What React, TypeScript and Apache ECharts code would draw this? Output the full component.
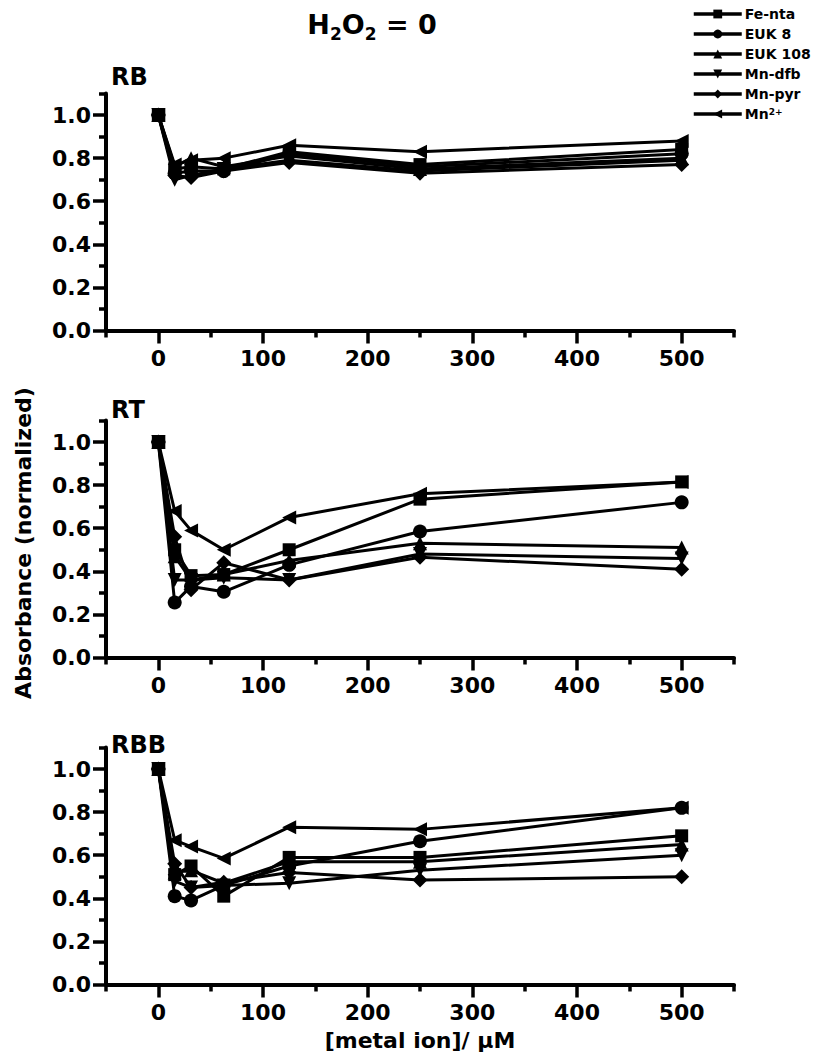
import React, { useEffect, useRef } from 'react';
import * as echarts from 'echarts';

// concentrations (µM)
const xValues = [0, 15.625, 31.25, 62.5, 125, 250, 500];
const seriesNames = ['Fe-nta', 'EUK 8', 'EUK 108', 'Mn-dfb', 'Mn-pyr', 'Mn2+'];
const panelLabels = ['RB', 'RT', 'RBB'];

// RB panel
const rbFeNta = [1, 0.75, 0.76, 0.75, 0.83, 0.77, 0.84];
const rbEuk8 = [1, 0.73, 0.74, 0.74, 0.82, 0.76, 0.82];
const rbEuk108 = [1, 0.76, 0.8, 0.76, 0.81, 0.75, 0.8];
const rbMnDfb = [1, 0.7, 0.72, 0.75, 0.79, 0.74, 0.79];
const rbMnPyr = [1, 0.72, 0.71, 0.74, 0.78, 0.73, 0.77];
const rbMn2 = [1, 0.77, 0.79, 0.8, 0.86, 0.83, 0.88];

// RT panel
const rtFeNta = [1, 0.5, 0.38, 0.385, 0.5, 0.735, 0.815];
const rtEuk8 = [1, 0.255, 0.33, 0.305, 0.43, 0.585, 0.72];
const rtEuk108 = [1, 0.47, 0.36, 0.385, 0.45, 0.53, 0.51];
const rtMnDfb = [1, 0.36, 0.36, 0.37, 0.36, 0.48, 0.46];
const rtMnPyr = [1, 0.56, 0.315, 0.44, 0.36, 0.465, 0.41];
const rtMn2 = [1, 0.68, 0.59, 0.5, 0.65, 0.76, 0.815];

// RBB panel
const rbbFeNta = [1, 0.51, 0.55, 0.41, 0.59, 0.59, 0.69];
const rbbEuk8 = [1, 0.41, 0.39, 0.46, 0.55, 0.665, 0.82];
const rbbEuk108 = [1, 0.52, 0.53, 0.47, 0.57, 0.57, 0.65];
const rbbMnDfb = [1, 0.48, 0.45, 0.46, 0.47, 0.53, 0.6];
const rbbMnPyr = [1, 0.56, 0.45, 0.475, 0.52, 0.485, 0.5];
const rbbMn2 = [1, 0.67, 0.64, 0.585, 0.73, 0.72, 0.82];

const panelData = [
  [rbFeNta, rbEuk8, rbEuk108, rbMnDfb, rbMnPyr, rbMn2],
  [rtFeNta, rtEuk8, rtEuk108, rtMnDfb, rtMnPyr, rtMn2],
  [rbbFeNta, rbbEuk8, rbbEuk108, rbbMnDfb, rbbMnPyr, rbbMn2],
];

const xTickValues = [0, 100, 200, 300, 400, 500];
const xMinorTickValues = [-50, 50, 150, 250, 350, 450, 550];
const yTickValues = [0, 0.2, 0.4, 0.6, 0.8, 1.0];
const yMinorTickValues = [0.1, 0.3, 0.5, 0.7, 0.9, 1.1];

const symbols = ['rect', 'circle', 'triangle', 'triangle', 'diamond', 'triangle'];
const symbolRotates = [0, 0, 0, 180, 0, 90];
const symbolSizes = [13, 14, 14, 14, 15, 14];

const FONT = 'DejaVu Sans';
const gridTops = [93.5, 420.5, 747.5];
const gridHeight = 237;
const panelLabelTops = [65, 398, 733];

export default function App() {
  const ref = useRef<HTMLDivElement>(null);

  useEffect(() => {
    if (!ref.current) return;
    const chart = echarts.init(ref.current, undefined, { renderer: 'svg' });

    const grids: any[] = [];
    const xAxes: any[] = [];
    const yAxes: any[] = [];
    const series: any[] = [];

    gridTops.forEach((top, i) => {
      grids.push({ left: 106, width: 628, top, height: gridHeight, containLabel: false });
      xAxes.push({
        gridIndex: i,
        type: 'value',
        min: -50,
        max: 550,
        position: 'bottom',
        axisLine: { show: true, onZero: false, lineStyle: { color: '#000', width: 4 } },
        axisTick: { show: true, customValues: xTickValues, length: 13, lineStyle: { color: '#000', width: 3.5 } },
        axisLabel: {
          customValues: xTickValues,
          fontFamily: FONT,
          fontWeight: 'bold',
          fontSize: 22,
          color: '#000',
          margin: 17,
        },
        splitLine: { show: false },
      });
      xAxes.push({
        gridIndex: i,
        type: 'value',
        min: -50,
        max: 550,
        position: 'bottom',
        axisLine: { show: false, onZero: false },
        axisTick: { show: true, customValues: xMinorTickValues, length: 7, lineStyle: { color: '#000', width: 3.5 } },
        axisLabel: { show: false },
        splitLine: { show: false },
      });
      yAxes.push({
        gridIndex: i,
        type: 'value',
        min: 0,
        max: 1.1,
        position: 'left',
        axisLine: { show: true, onZero: false, lineStyle: { color: '#000', width: 4 } },
        axisTick: { show: true, customValues: yTickValues, length: 13, lineStyle: { color: '#000', width: 3.5 } },
        axisLabel: {
          customValues: yTickValues,
          formatter: (v: number) => v.toFixed(1),
          fontFamily: FONT,
          fontWeight: 'bold',
          fontSize: 22,
          color: '#000',
          margin: 15,
        },
        splitLine: { show: false },
      });
      yAxes.push({
        gridIndex: i,
        type: 'value',
        min: 0,
        max: 1.1,
        position: 'left',
        axisLine: { show: false, onZero: false },
        axisTick: { show: true, customValues: yMinorTickValues, length: 7, lineStyle: { color: '#000', width: 3.5 } },
        axisLabel: { show: false },
        splitLine: { show: false },
      });

      panelData[i].forEach((vals, j) => {
        series.push({
          type: 'line',
          name: seriesNames[j],
          xAxisIndex: 2 * i,
          yAxisIndex: 2 * i,
          data: xValues.map((x, k) => [x, vals[k]]),
          symbol: symbols[j],
          symbolSize: symbolSizes[j],
          symbolRotate: symbolRotates[j],
          showAllSymbol: true,
          lineStyle: { color: '#000', width: 3 },
          itemStyle: { color: '#000', borderWidth: 0 },
          z: 2 + j,
        });
      });
    });

    chart.setOption({
      animation: false,
      backgroundColor: '#fff',
      grid: grids,
      xAxis: xAxes,
      yAxis: yAxes,
      series,
      legend: {
        data: seriesNames,
        orient: 'vertical',
        left: 687,
        top: 2,
        itemWidth: 48,
        itemHeight: 11,
        itemGap: 6,
        selectedMode: false,
        lineStyle: { width: 3.5, color: '#000' },
        itemStyle: { color: '#000', borderWidth: 0 },
        formatter: (name: string) => (name === 'Mn2+' ? 'Mn{sup|2+}' : name),
        textStyle: {
          fontFamily: FONT,
          fontWeight: 'bold',
          fontSize: 14,
          color: '#000',
          lineHeight: 14,
          padding: [0, 0, 0, -2],
          rich: {
            sup: { fontFamily: FONT, fontWeight: 'bold', fontSize: 9, color: '#000', verticalAlign: 'top', lineHeight: 14 },
          },
        },
      },
      graphic: [
        {
          type: 'text',
          x: 372,
          y: 24,
          style: {
            text: 'H{sub|2}O{sub|2} = 0',
            fontFamily: FONT,
            fontWeight: 'bold',
            fontSize: 27,
            lineHeight: 36,
            fill: '#000',
            align: 'center',
            verticalAlign: 'middle',
            rich: {
              sub: { fontFamily: FONT, fontWeight: 'bold', fontSize: 17, lineHeight: 36, verticalAlign: 'bottom', fill: '#000' },
            },
          },
        },
        ...panelLabels.map((t, i) => ({
          type: 'text',
          x: 111,
          y: panelLabelTops[i],
          style: {
            text: t,
            fontFamily: FONT,
            fontWeight: 'bold',
            fontSize: 24,
            fill: '#000',
          },
        })),
        {
          type: 'text',
          x: 23,
          y: 543,
          rotation: Math.PI / 2,
          style: {
            text: 'Absorbance (normalized)',
            fontFamily: FONT,
            fontWeight: 'bold',
            fontSize: 22,
            fill: '#000',
            align: 'center',
            verticalAlign: 'middle',
          },
        },
        {
          type: 'text',
          x: 420,
          y: 1040,
          style: {
            text: '[metal ion]/ \u03bcM',
            fontFamily: FONT,
            fontWeight: 'bold',
            fontSize: 22,
            fill: '#000',
            align: 'center',
            verticalAlign: 'middle',
          },
        },
      ],
    });

    return () => chart.dispose();
  }, []);

  return (
    <div
      ref={ref}
      style={{ position: 'fixed', left: 0, top: 0, width: 817, height: 1055, background: '#fff' }}
    />
  );
}
